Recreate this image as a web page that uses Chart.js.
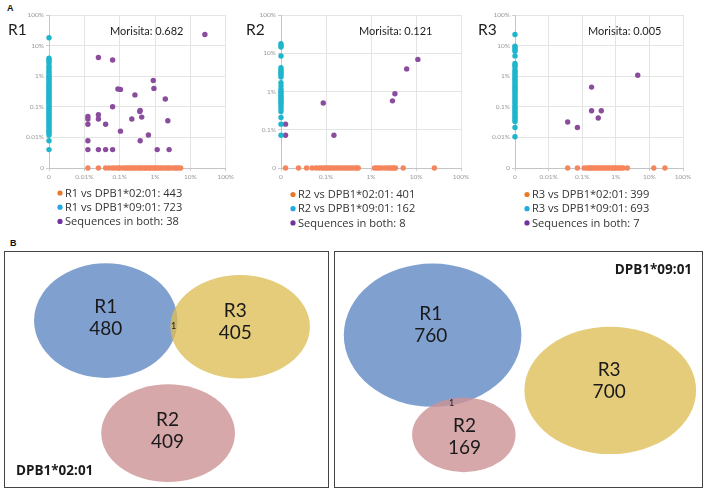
<!DOCTYPE html>
<html>
<head>
<meta charset="utf-8">
<script src="https://cdn.jsdelivr.net/npm/chart.js@4.4.1/dist/chart.umd.min.js"></script>
<style>
  body { margin: 0; background: #fff; }
  #fig { position: relative; width: 708px; height: 494px; background: #fff; overflow: hidden; }
  .c { position: absolute; }
  .box { position: absolute; border: 1px solid #444; box-sizing: border-box; }
  .box canvas { display: block; }
  .tag { position: absolute; font: bold 9px "Liberation Sans", Arial, sans-serif; color: #111; }
</style>
</head>
<body>
<div id="fig">
  <div class="tag" style="left:7px;top:3px">A</div>
  <div class="tag" style="left:10px;top:238px">B</div>
  <canvas id="s1" class="c" style="left:0;top:0" width="236" height="232"></canvas>
  <canvas id="s2" class="c" style="left:236px;top:0" width="236" height="232"></canvas>
  <canvas id="s3" class="c" style="left:472px;top:0" width="236" height="232"></canvas>
  <div class="box" style="left:4px;top:251px;width:325px;height:237px"><canvas id="v1" width="323" height="235"></canvas></div>
  <div class="box" style="left:334px;top:251px;width:369px;height:237px"><canvas id="v2" width="367" height="235"></canvas></div>
</div>
<script>
// ---- panel A data (frequencies in %, 0 = absent in that repertoire) ----
var repertoires = ['R1', 'R2', 'R3'];
var morisita = ['0.682', '0.121', '0.005'];
var count0201 = [443, 401, 399];
var count0901 = [723, 162, 693];
var countBoth = [38, 8, 7];

var ticks5 = [0, 0.01, 0.1, 1, 10, 100];
var ticks4 = [0, 0.1, 1, 10, 100];

// R1
var r1OrangeX = [0.0126, 0.025, 0.04, 0.05, 0.063, 0.075, 0.09, 0.1, 0.12, 0.14, 0.16, 0.18, 0.2, 0.23, 0.26, 0.3,
  0.34, 0.38, 0.43, 0.5, 0.55, 0.63, 0.7, 0.8, 0.9, 1.0, 1.15, 1.3, 1.5, 1.7, 2.0, 2.3, 2.5, 3.0, 3.5, 4.0, 4.5, 5.3];
var r1CyanY = [18, 3.9, 3.5, 3.1, 2.6, 2.1, 1.8, 1.5, 1.3, 1.1, 0.95, 0.85, 0.75, 0.65, 0.58, 0.5, 0.45, 0.4, 0.35,
  0.3, 0.27, 0.24, 0.21, 0.19, 0.17, 0.15, 0.13, 0.115, 0.1, 0.09, 0.08, 0.07, 0.062, 0.055, 0.048, 0.042, 0.037,
  0.032, 0.028, 0.024, 0.021, 0.018, 0.016, 0.014, 0.012, 0.0078, 0.004];
var r1PurpleX = [25.7, 0.025, 0.063, 0.89, 0.93, 0.089, 0.105, 0.27, 1.95, 0.063, 0.38, 0.37, 0.0126, 0.025, 0.0126,
  0.025, 0.42, 0.22, 2.3, 0.0126, 0.04, 0.105, 0.65, 0.0126, 0.38, 0.0126, 0.025, 0.04, 0.063, 1.15, 2.5];
var r1PurpleY = [23, 4.1, 3.4, 0.72, 0.40, 0.38, 0.37, 0.245, 0.18, 0.10, 0.076, 0.07, 0.048, 0.055, 0.04,
  0.04, 0.046, 0.04, 0.035, 0.027, 0.027, 0.016, 0.012, 0.0078, 0.0078, 0.004, 0.004, 0.004, 0.004, 0.004, 0.004];

// R2
var r2OrangeX = [0.0126, 0.0245, 0.037, 0.049, 0.06, 0.07, 0.08, 0.09, 0.1, 0.11, 0.12, 0.135, 0.15, 0.17, 0.19,
  0.21, 0.24, 0.27, 0.3, 0.34, 0.38, 0.43, 0.48, 0.52, 1.2, 1.35, 1.5, 1.7, 2.0, 2.3, 2.6, 2.9, 3.2, 3.5, 5.2, 25.6];
var r2CyanY = [17.8, 16, 14.5, 8.5, 4.2, 3.7, 3.3, 3.0, 2.7, 2.4, 1.7, 1.4, 1.15, 1.0, 0.9, 0.8, 0.72, 0.65, 0.58,
  0.52, 0.47, 0.42, 0.36, 0.3, 0.21, 0.14, 0.072];
var r2PurpleX = [0.0126, 0.0126, 0.087, 0.15, 3.0, 3.4, 6.2, 11];
var r2PurpleY = [0.14, 0.072, 0.5, 0.072, 0.57, 0.87, 3.9, 6.9];

// R3
var r3OrangeX = [0.037, 0.072, 0.115, 0.14, 0.16, 0.18, 0.2, 0.23, 0.26, 0.3, 0.34, 0.38, 0.43, 0.5, 0.57, 0.65,
  0.75, 0.85, 0.95, 1.1, 1.25, 1.45, 1.65, 2.2, 13.5, 29];
var r3CyanY = [23, 9.5, 8.5, 7.5, 6.5, 4.6, 2.6, 2.3, 2.0, 1.6, 1.4, 1.2, 1.05, 0.9, 0.8, 0.7, 0.6, 0.52, 0.45, 0.4,
  0.35, 0.3, 0.26, 0.22, 0.19, 0.16, 0.14, 0.12, 0.1, 0.088, 0.077, 0.066, 0.058, 0.05, 0.044, 0.038, 0.033,
  0.021, 0.0105];
var r3PurpleX = [0.037, 0.072, 0.19, 0.19, 0.37, 0.30, 4.5];
var r3PurpleY = [0.032, 0.021, 0.44, 0.074, 0.074, 0.043, 1.08];

// ---- panel B data ----
var vennSets = ['R1', 'R2', 'R3'];
var venn0201Counts = [480, 409, 405];
var venn0901Counts = [760, 169, 700];
var venn0201Shared = 1; // R1 & R3
var venn0901Shared = 1; // R1 & R2

var ORANGE = '#f5855c', CYAN = '#1fb5cd', PURPLE = '#8a4c9c';
var LEG_COLORS = ['#e8792b', '#22a9e0', '#7233a0'];

function scatterChart(id, i, oX, cY, pX, pY, floor, xt, yt, lay) {
  var fmt = function (v) { return v === floor ? '0' : v + '%'; };
  var pos = function (v) { return v === 0 ? floor : v; };

  var texts = {
    id: 'texts',
    afterDraw: function (chart) {
      var ctx = chart.ctx;
      ctx.save();
      ctx.fillStyle = '#1e1e1e';
      ctx.textBaseline = 'alphabetic';
      ctx.font = '15.5px Lato';
      ctx.fillText(repertoires[i], lay.titleX, 35);
      ctx.font = '11px Lato';
      ctx.fillText('Morisita: ' + morisita[i], lay.moriX, 35);
      var items = [
        repertoires[i] + ' vs DPB1*02:01: ' + count0201[i],
        repertoires[i] + ' vs DPB1*09:01: ' + count0901[i],
        'Sequences in both: ' + countBoth[i]
      ];
      ctx.font = '11.1px "Open Sans"';
      ctx.textBaseline = 'middle';
      items.forEach(function (t, k) {
        var yy = lay.legTop + k * 14.2;
        ctx.fillStyle = LEG_COLORS[k];
        ctx.beginPath();
        ctx.arc(lay.legX, yy, 2.6, 0, Math.PI * 2);
        ctx.fill();
        ctx.fillStyle = '#333';
        ctx.fillText(t, lay.legX + 5, yy + 0.5);
      });
      ctx.restore();
    }
  };

  var axis = function (ticks, vertical) {
    return {
      type: 'logarithmic',
      min: floor,
      max: 100,
      afterBuildTicks: function (s) { s.ticks = ticks.map(function (v) { return { value: pos(v) }; }); },
      afterFit: function (s) { if (vertical) s.width = 30; else s.height = 14; },
      ticks: { callback: fmt, autoSkip: false, maxRotation: 0, color: '#9a9a9a', font: { size: 6.5, family: 'Lato' }, padding: 2 },
      grid: { color: '#e4e4e4', tickLength: 3, tickColor: '#cfcfcf' },
      border: { color: '#c4c4c4' }
    };
  };

  return new Chart(document.getElementById(id), {
    type: 'scatter',
    data: {
      datasets: [
        { data: oX.map(function (x) { return { x: x, y: floor }; }), backgroundColor: ORANGE },
        { data: cY.map(function (y) { return { x: floor, y: y }; }), backgroundColor: CYAN },
        { data: pX.map(function (x, k) { return { x: x, y: pY[k] }; }), backgroundColor: PURPLE }
      ]
    },
    options: {
      responsive: false,
      animation: false,
      devicePixelRatio: 1,
      events: [],
      clip: false,
      elements: { point: { radius: 2.7, borderWidth: 0 } },
      layout: { padding: { left: lay.padL, right: lay.padR, top: 15, bottom: 50 } },
      plugins: { legend: { display: false }, tooltip: { enabled: false } },
      scales: { x: axis(xt, false), y: axis(yt, true) }
    },
    plugins: [texts]
  });
}

scatterChart('s1', 0, r1OrangeX, r1CyanY, r1PurpleX, r1PurpleY, 0.001, ticks5, ticks5,
  { padL: 19, padR: 8, titleX: 8, moriX: 110, legX: 60, legTop: 193 });
scatterChart('s2', 1, r2OrangeX, r2CyanY, r2PurpleX, r2PurpleY, 0.01, ticks4, ticks4,
  { padL: 15, padR: 11, titleX: 10, moriX: 123, legX: 57, legTop: 194.5 });
scatterChart('s3', 2, r3OrangeX, r3CyanY, r3PurpleX, r3PurpleY, 0.001, ticks5, ticks5,
  { padL: 13, padR: 25, titleX: 6, moriX: 116, legX: 55, legTop: 194.5 });

// ---- Venn diagrams: ellipse geometry in box units (0-100 each way) ----
var VENN_FILL = ['rgba(96,136,195,0.8)', 'rgba(204,146,149,0.8)', 'rgba(222,190,84,0.78)'];

function vennChart(id, counts, ellipses, labels, order, shared, tag) {
  var draw = {
    id: 'venn',
    afterDatasetsDraw: function (chart) {
      var ctx = chart.ctx, xs = chart.scales.x, ys = chart.scales.y;
      var meta = chart.getDatasetMeta(0).data;
      order.forEach(function (k) {
        var e = ellipses[k];
        var rx = Math.abs(xs.getPixelForValue(e.cx + e.rx) - meta[k].x);
        var ry = Math.abs(ys.getPixelForValue(e.cy + e.ry) - meta[k].y);
        ctx.save();
        ctx.filter = 'blur(0.7px)';
        ctx.fillStyle = VENN_FILL[k];
        ctx.beginPath();
        ctx.ellipse(meta[k].x, meta[k].y, rx, ry, 0, 0, Math.PI * 2);
        ctx.fill();
        ctx.restore();
      });
      ctx.save();
      ctx.fillStyle = '#1a1a1a';
      ctx.textAlign = 'center';
      ctx.textBaseline = 'middle';
      ctx.font = '19px Lato';
      labels.forEach(function (l, k) {
        var px = xs.getPixelForValue(l.x), py = ys.getPixelForValue(l.y);
        ctx.fillText(vennSets[k], px, py - 11);
        ctx.fillText(String(counts[k]), px, py + 11);
      });
      ctx.font = '9px Lato';
      ctx.fillText(String(shared.n), xs.getPixelForValue(shared.x), ys.getPixelForValue(shared.y));
      ctx.font = 'bold 13.5px "Open Sans"';
      ctx.textAlign = tag.align;
      ctx.fillText(tag.text, xs.getPixelForValue(tag.x), ys.getPixelForValue(tag.y));
      ctx.restore();
    }
  };
  return new Chart(document.getElementById(id), {
    type: 'scatter',
    data: { datasets: [{ data: ellipses.map(function (e) { return { x: e.cx, y: e.cy }; }), pointRadius: 0 }] },
    options: {
      responsive: false,
      animation: false,
      devicePixelRatio: 1,
      events: [],
      layout: { padding: 0 },
      plugins: { legend: { display: false }, tooltip: { enabled: false } },
      scales: {
        x: { display: false, min: 0, max: 100 },
        y: { display: false, min: 0, max: 100, reverse: true }
      }
    },
    plugins: [draw]
  });
}

vennChart('v1', venn0201Counts,
  [{ cx: 31.2, cy: 29.2, rx: 22.2, ry: 24.4 }, { cx: 50.5, cy: 77.1, rx: 20.7, ry: 20.8 }, { cx: 72.8, cy: 31.8, rx: 21.6, ry: 22.0 }],
  [{ x: 31.2, y: 28.2 }, { x: 50.3, y: 76.3 }, { x: 71.3, y: 29.7 }],
  [0, 2, 1],
  { n: venn0201Shared, x: 52.2, y: 31.6 },
  { text: 'DPB1*02:01', x: 3.4, y: 93.2, align: 'left' });

vennChart('v2', venn0901Counts,
  [{ cx: 26.6, cy: 35.4, rx: 24.2, ry: 30.5 }, { cx: 35.1, cy: 77.8, rx: 14.1, ry: 15.9 }, { cx: 75.0, cy: 58.9, rx: 23.4, ry: 27.1 }],
  [{ x: 26.1, y: 31.1 }, { x: 35.3, y: 78.8 }, { x: 74.7, y: 54.7 }],
  [0, 2, 1],
  { n: venn0901Shared, x: 31.8, y: 64.4 },
  { text: 'DPB1*09:01', x: 97.3, y: 7.8, align: 'right' });
</script>
</body>
</html>
